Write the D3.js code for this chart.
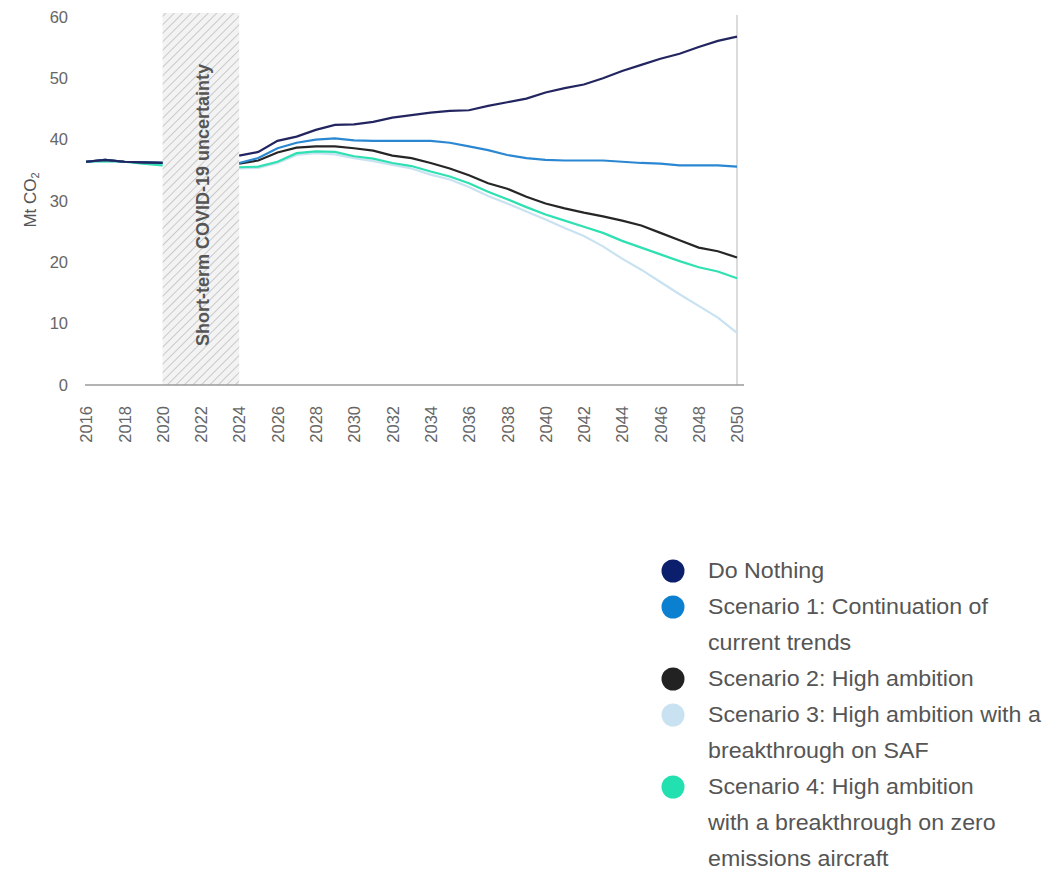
<!DOCTYPE html>
<html>
<head>
<meta charset="utf-8">
<script src="https://cdn.jsdelivr.net/npm/d3@7"></script>
<style>
  html, body { margin: 0; padding: 0; background: #fff; }
  svg { display: block; font-family: "Liberation Sans", Arial, sans-serif; }
</style>
</head>
<body>
<svg id="chart" width="1059" height="872"></svg>
<script>
// ---- data ----
const histYears = [2016, 2017, 2018, 2019, 2020];
const projYears = d3.range(2024, 2051);

const seriesNames = [
  "Do Nothing",
  "Scenario 1: Continuation of current trends",
  "Scenario 2: High ambition",
  "Scenario 3: High ambition with a breakthrough on SAF",
  "Scenario 4: High ambition with a breakthrough on zero emissions aircraft"
];
const seriesColors = ["#22255f", "#2b87d1", "#262626", "#c9e2f1", "#2fe0b2"];
const legendColors = ["#0c1f6d", "#0b80d0", "#222222", "#c9e2f1", "#22e0b0"];

const histDoNothing = [36.4, 36.7, 36.4, 36.3, 36.2];
const histScen1     = [36.4, 36.7, 36.4, 36.3, 36.2];
const histScen2     = [36.4, 36.7, 36.4, 36.3, 36.2];
const histScen3     = [36.4, 36.5, 36.4, 36.1, 35.8];
const histScen4     = [36.4, 36.5, 36.4, 36.1, 35.8];

const projDoNothing = [37.4, 38.0, 39.8, 40.5, 41.6, 42.4, 42.5, 42.9, 43.6, 44.0, 44.4, 44.7, 44.8, 45.5, 46.1, 46.7,
                       47.7, 48.4, 49.0, 50.0, 51.2, 52.2, 53.2, 54.0, 55.1, 56.1, 56.8];
const projScen1     = [36.2, 37.0, 38.6, 39.5, 40.0, 40.2, 39.9, 39.8, 39.8, 39.8, 39.8, 39.5, 38.9, 38.3, 37.5, 37.0,
                       36.7, 36.6, 36.6, 36.6, 36.4, 36.2, 36.1, 35.8, 35.8, 35.8, 35.6];
const projScen2     = [36.1, 36.6, 37.9, 38.7, 38.9, 38.9, 38.6, 38.2, 37.4, 37.0, 36.2, 35.3, 34.2, 32.9, 32.0, 30.7,
                       29.6, 28.8, 28.1, 27.5, 26.8, 26.0, 24.8, 23.6, 22.4, 21.8, 20.8];
const projScen3     = [35.3, 35.4, 36.2, 37.5, 37.8, 37.6, 37.0, 36.5, 35.9, 35.3, 34.3, 33.5, 32.3, 30.8, 29.6, 28.3,
                       27.0, 25.6, 24.3, 22.6, 20.6, 18.8, 16.8, 14.8, 12.9, 11.0, 8.5];
const projScen4     = [35.5, 35.6, 36.4, 37.8, 38.1, 38.0, 37.3, 36.9, 36.2, 35.7, 34.8, 34.0, 32.9, 31.5, 30.3, 29.0,
                       27.8, 26.8, 25.8, 24.8, 23.5, 22.4, 21.3, 20.2, 19.2, 18.5, 17.4];

const histValues = [histDoNothing, histScen1, histScen2, histScen3, histScen4];
const projValues = [projDoNothing, projScen1, projScen2, projScen3, projScen4];

const yTicks = [0, 10, 20, 30, 40, 50, 60];
const xTicks = d3.range(2016, 2051, 2);
const covidStart = 2020, covidEnd = 2024;
const covidLabel = "Short-term COVID-19 uncertainty";

const legendLines = [
  ["Do Nothing"],
  ["Scenario 1: Continuation of", "current trends"],
  ["Scenario 2: High ambition"],
  ["Scenario 3: High ambition with a", "breakthrough on SAF"],
  ["Scenario 4: High ambition", "with a breakthrough on zero", "emissions aircraft"]
];

// ---- layout ----
const svg = d3.select("#chart");
const x = d3.scaleLinear().domain([2016, 2050]).range([86, 737]);
const y = d3.scaleLinear().domain([0, 60]).range([385, 17]);

// hatch pattern
const defs = svg.append("defs");
const pat = defs.append("pattern")
  .attr("id", "hatch").attr("patternUnits", "userSpaceOnUse")
  .attr("width", 6).attr("height", 6)
  .attr("patternTransform", "rotate(45)");
pat.append("rect").attr("width", 6).attr("height", 6).attr("fill", "#f3f3f3");
pat.append("line").attr("x1", 0).attr("y1", 0).attr("x2", 0).attr("y2", 6)
  .attr("stroke", "#c9c9c9").attr("stroke-width", 2);

// covid band
svg.append("rect")
  .attr("x", x(covidStart)).attr("y", 13)
  .attr("width", x(covidEnd) - x(covidStart))
  .attr("height", y(0) - 13)
  .attr("fill", "url(#hatch)");

svg.append("text")
  .attr("transform", `translate(${(x(covidStart) + x(covidEnd)) / 2 + 8},${y(0) - 39}) rotate(-90)`)
  .attr("font-size", 18).attr("font-weight", "bold").attr("fill", "#555")
  .text(covidLabel);

// right reference line at 2050
svg.append("line")
  .attr("x1", x(2050)).attr("x2", x(2050))
  .attr("y1", 15).attr("y2", y(0))
  .attr("stroke", "#cfcfcf").attr("stroke-width", 1.5);

// x axis
const xAxis = d3.axisBottom(x).tickValues(xTicks).tickFormat(d3.format("d")).tickSize(0);
const gx = svg.append("g").attr("transform", `translate(0,${y(0)})`).call(xAxis);
gx.select(".domain").remove();
gx.append("line").attr("x1", 85).attr("x2", 744).attr("y1", 0).attr("y2", 0)
  .attr("stroke", "#9a9a9a").attr("stroke-width", 1.5);
gx.selectAll(".tick text")
  .attr("font-size", 16.5).attr("fill", "#666")
  .attr("font-family", "Liberation Sans, Arial, sans-serif")
  .attr("text-anchor", "end")
  .attr("transform", "rotate(-90)")
  .attr("x", -21).attr("y", 0).attr("dy", "0.35em");

// y axis
const yAxis = d3.axisLeft(y).tickValues(yTicks).tickSize(0);
const gy = svg.append("g").attr("transform", `translate(68,0)`).call(yAxis);
gy.select(".domain").remove();
gy.selectAll(".tick text")
  .attr("font-size", 16.5).attr("fill", "#666")
  .attr("font-family", "Liberation Sans, Arial, sans-serif")
  .attr("x", 0);

// y label
const yl = svg.append("text")
  .attr("transform", "translate(36,200) rotate(-90)")
  .attr("text-anchor", "middle")
  .attr("font-size", 17).attr("fill", "#555");
yl.append("tspan").text("Mt CO");
yl.append("tspan").attr("font-size", 11).attr("dy", 3).text("2");

// lines
const line = d3.line().x(d => x(d[0])).y(d => y(d[1]));
const order = [3, 4, 2, 1, 0];
order.forEach(i => {
  svg.append("path")
    .datum(histYears.map((yr, k) => [yr, histValues[i][k]]))
    .attr("d", line).attr("fill", "none")
    .attr("stroke", seriesColors[i]).attr("stroke-width", 2.2);
  svg.append("path")
    .datum(projYears.map((yr, k) => [yr, projValues[i][k]]))
    .attr("d", line).attr("fill", "none")
    .attr("stroke", seriesColors[i]).attr("stroke-width", 2.2);
});

// legend
const lg = svg.append("g");
const baseY = 578, step = 36;
let row = 0;
legendLines.forEach((lines, i) => {
  lg.append("circle").attr("cx", 673).attr("cy", baseY + step * row - 7).attr("r", 11.5)
    .attr("fill", legendColors[i]);
  lines.forEach((t, j) => {
    lg.append("text")
      .attr("transform", `translate(708,${baseY + step * (row + j)}) scale(1.055,1)`)
      .attr("font-size", 22).attr("fill", "#555").text(t);
  });
  row += lines.length;
});
</script>
</body>
</html>
